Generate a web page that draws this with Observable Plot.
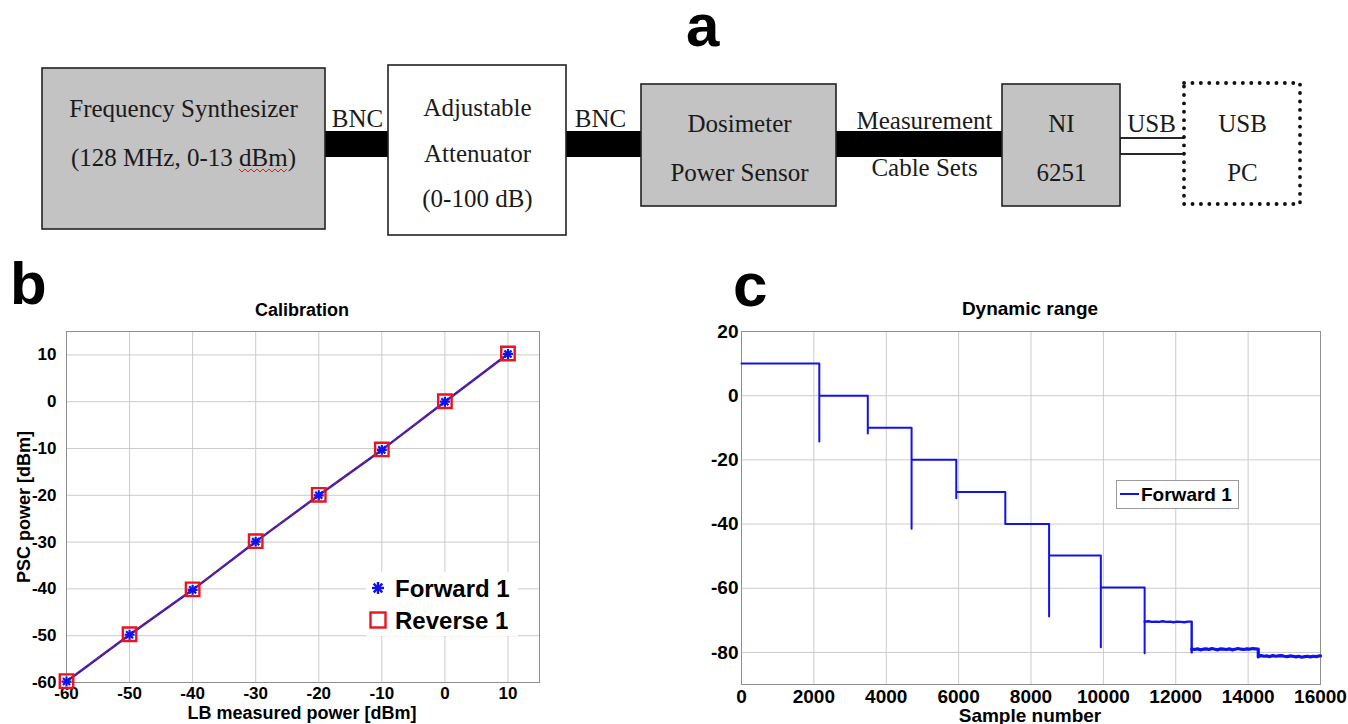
<!DOCTYPE html>
<html><head><meta charset="utf-8">
<script src="https://cdn.jsdelivr.net/npm/d3@7"></script>
<script src="https://cdn.jsdelivr.net/npm/@observablehq/plot@0.6"></script>
<style>
body{margin:0;background:#fff;}
#root{position:relative;width:1348px;height:724px;overflow:hidden;font-family:"Liberation Sans",Arial,sans-serif;}
#root > *{position:absolute;}
</style></head><body><div id="root"></div>
<script>
// ---------- Panel a: block diagram content ----------
const blockLabels = [
  ["Frequency Synthesizer", "(128 MHz, 0-13 dBm)"],
  ["Adjustable", "Attenuator", "(0-100 dB)"],
  ["Dosimeter", "Power Sensor"],
  ["NI", "6251"],
  ["USB", "PC"]
];
const cableLabels = [["BNC"], ["BNC"], ["Measurement", "Cable Sets"], ["USB"]];

// ---------- Panel b: calibration ----------
const lbPower = [-60, -50, -40, -30, -20, -10, 0, 10];
const forward1 = [-59.8, -49.8, -40.2, -29.9, -20.0, -10.3, 0.0, 10.2];
const reverse1 = [-59.7, -49.7, -40.1, -29.8, -19.9, -10.2, 0.1, 10.3];
const calTicks = [-60, -50, -40, -30, -20, -10, 0, 10];

// ---------- Panel c: dynamic range ----------
const stepStart = [0, 2150, 3490, 4700, 5935, 7290, 8500, 9930, 11140, 12440, 14280];
const stepLevel = [10, 0, -10, -20, -30, -40, -49.8, -59.8, -70.4, -79.0, -81.1];
const dropSpike = [-14.3, -11.8, -41.5, -32.0, -40.0, -68.8, -78.4, -80.3, -80.0, -81.4];
const sampleEnd = 16000;
// plateau jitter read from the noisy low-level segments
const wiggle8X = [11240, 11340, 11440, 11540, 11640, 11740, 11840, 11940, 12040, 12140, 12240, 12340];
const wiggle8Y = [-70.3, -70.5, -70.4, -70.5, -70.3, -70.5, -70.4, -70.6, -70.4, -70.5, -70.6, -70.4];
const wiggle9X = [12520, 12600, 12680, 12760, 12840, 12920, 13000, 13080, 13160, 13240, 13320, 13400, 13480, 13560, 13640, 13720, 13800, 13880, 13960, 14040, 14120, 14200];
const wiggle9Y = [-79.1, -78.9, -79.2, -79.0, -78.9, -79.1, -78.8, -79.0, -79.2, -78.9, -79.0, -79.1, -78.9, -79.2, -79.0, -78.8, -79.0, -79.1, -78.9, -79.0, -78.8, -78.9];
const wiggle10X = [14360, 14440, 14520, 14600, 14680, 14760, 14840, 14920, 15000, 15080, 15160, 15240, 15320, 15400, 15480, 15560, 15640, 15720, 15800, 15880, 15960];
const wiggle10Y = [-81.0, -81.2, -81.1, -81.3, -81.0, -81.2, -81.1, -81.0, -81.2, -81.3, -81.1, -81.2, -81.4, -81.2, -81.5, -81.3, -81.2, -81.4, -81.2, -81.3, -81.1];
const sampleTicks = [0, 2000, 4000, 6000, 8000, 10000, 12000, 14000, 16000];
const levelTicks = [-80, -60, -40, -20, 0, 20];

// ---------- build ----------
const root = document.getElementById("root");
const sans = "Liberation Sans, Arial, sans-serif";
const serif = "Liberation Serif, Times New Roman, serif";

// diagram layout (pixel frame of panel a)
const blockBox = [
  {x1: 42, x2: 325, y1: 68, y2: 229, fill: "#c3c3c3", cx: 183, rows: [108, 157]},
  {x1: 388, x2: 566, y1: 65, y2: 235, fill: "#ffffff", cx: 477, rows: [107, 153, 198]},
  {x1: 641, x2: 836, y1: 84, y2: 206, fill: "#c3c3c3", cx: 739, rows: [123, 172]},
  {x1: 1002, x2: 1120, y1: 84, y2: 206, fill: "#c3c3c3", cx: 1061, rows: [123, 172]},
  {x1: 1184, x2: 1300, y1: 83, y2: 204, fill: "#ffffff", cx: 1242, rows: [123, 172], dotted: true}
];
const cableBox = [
  {x1: 325, x2: 388, y1: 131, y2: 157, cx: 357, rows: [118]},
  {x1: 566, x2: 641, y1: 131, y2: 157, cx: 600, rows: [118]},
  {x1: 836, x2: 1002, y1: 131, y2: 157, cx: 924, rows: [120, 167]},
  {x1: 1120, x2: 1186, y1: 138, y2: 154, cx: 1151, rows: [123], hollow: true}
];
const diagramText = [];
blockLabels.forEach((lines, i) => lines.forEach((t, j) => diagramText.push({x: blockBox[i].cx, y: blockBox[i].rows[j], t})));
cableLabels.forEach((lines, i) => lines.forEach((t, j) => diagramText.push({x: cableBox[i].cx, y: cableBox[i].rows[j], t})));

const diagram = Plot.plot({
  width: 1348, height: 250, margin: 0,
  x: {domain: [0, 1348], range: [0, 1348], axis: null},
  y: {domain: [0, 250], range: [0, 250], axis: null},
  style: {background: "transparent", overflow: "visible"},
  marks: [
    Plot.rect(cableBox.filter(d => !d.hollow), {x1: "x1", x2: "x2", y1: "y1", y2: "y2", fill: "#000"}),
    Plot.rect(cableBox.filter(d => d.hollow), {x1: "x1", x2: "x2", y1: "y1", y2: "y2", fill: "#fff", stroke: "#111", strokeWidth: 1.8}),
    Plot.rect(blockBox.filter(d => !d.dotted), {x1: "x1", x2: "x2", y1: "y1", y2: "y2", fill: d => d.fill, stroke: "#222", strokeWidth: 1.6}),
    Plot.rect(blockBox.filter(d => d.dotted), {x1: "x1", x2: "x2", y1: "y1", y2: "y2", fill: "#fff", stroke: "#111", strokeWidth: 3.8, strokeDasharray: "0.1 8.3", strokeLinecap: "round"}),
    Plot.text(diagramText, {x: "x", y: "y", text: "t", fontFamily: serif, fontSize: 25, fill: "#1a1a1a", lineAnchor: "middle"})
  ]
});
diagram.style.left = "0px"; diagram.style.top = "0px";
root.appendChild(diagram);

const fmt = d => String(d);
const calData = lbPower.map((x, i) => ({x, f: forward1[i], r: reverse1[i]}));
const calib = Plot.plot({
  width: 560, height: 434, marginLeft: 66, marginRight: 21, marginTop: 41, marginBottom: 42,
  style: {fontFamily: sans, background: "transparent", color: "#000", overflow: "visible"},
  x: {domain: [-60, 15]}, y: {domain: [-60, 15]},
  marks: [
    Plot.gridX(calTicks, {stroke: "#cbcbcb", strokeOpacity: 1}),
    Plot.gridY(calTicks, {stroke: "#cbcbcb", strokeOpacity: 1}),
    Plot.frame({stroke: "#8e8e8e"}),
    Plot.axisX(calTicks, {tickSize: 0, tickPadding: 4, fontSize: 17, fontWeight: "bold", label: null, tickFormat: fmt}),
    Plot.axisY(calTicks, {tickSize: 0, tickPadding: 10, fontSize: 17, fontWeight: "bold", label: null, tickFormat: fmt}),
    Plot.line(calData, {x: "x", y: "f", stroke: "#2a1ec8", strokeWidth: 2.4}),
    Plot.line(calData, {x: "x", y: "r", stroke: "#c81a3a", strokeWidth: 1.2, strokeDasharray: "5 4", strokeOpacity: 0.7}),
    Plot.dot(calData, {x: "x", y: "r", symbol: "square", r: 7.6, stroke: "#e8141e", strokeWidth: 2.4, fill: "none"}),
    Plot.dot(calData, {x: "x", y: "f", symbol: "plus", r: 3.3, stroke: "#1010f0", strokeWidth: 2.2}),
    Plot.dot(calData, {x: "x", y: "f", symbol: "times", r: 3.3, stroke: "#1010f0", strokeWidth: 2.2})
  ]
});
calib.style.left = "0px"; calib.style.top = "290px";
root.appendChild(calib);

// step trace
const wiggles = {8: [wiggle8X, wiggle8Y], 9: [wiggle9X, wiggle9Y], 10: [wiggle10X, wiggle10Y]};
const trace = [];
stepStart.forEach((s, i) => {
  const e = i + 1 < stepStart.length ? stepStart[i + 1] : sampleEnd;
  trace.push({x: s, y: stepLevel[i], seg: i});
  if (wiggles[i]) wiggles[i][0].forEach((wx, k) => trace.push({x: wx, y: wiggles[i][1][k], seg: i}));
  trace.push({x: e, y: stepLevel[i], seg: i});
  if (i + 1 < stepStart.length) trace.push({x: e, y: dropSpike[i], seg: i});
});
const dyn = Plot.plot({
  width: 658, height: 434, marginLeft: 51, marginRight: 28, marginTop: 41, marginBottom: 40,
  style: {fontFamily: sans, background: "transparent", color: "#000", overflow: "visible"},
  x: {domain: [0, 16000]}, y: {domain: [-90, 20]},
  marks: [
    Plot.gridX(sampleTicks, {stroke: "#cbcbcb", strokeOpacity: 1}),
    Plot.gridY(levelTicks, {stroke: "#cbcbcb", strokeOpacity: 1}),
    Plot.frame({stroke: "#8e8e8e"}),
    Plot.axisX(sampleTicks, {tickSize: 0, tickPadding: 5, fontSize: 19, fontWeight: "bold", label: null, tickFormat: fmt}),
    Plot.axisY(levelTicks, {tickSize: 0, tickPadding: 3, fontSize: 19, fontWeight: "bold", label: null, tickFormat: fmt}),
    Plot.line(trace.filter(d => d.seg < 8), {x: "x", y: "y", stroke: "#1212ee", strokeWidth: 2}),
    Plot.line(trace.filter(d => d.seg === 8), {x: "x", y: "y", stroke: "#1212ee", strokeWidth: 2.4}),
    Plot.line(trace.filter(d => d.seg > 8), {x: "x", y: "y", stroke: "#1212ee", strokeWidth: 3.2})
  ]
});
dyn.style.left = "690px"; dyn.style.top = "290px";
root.appendChild(dyn);

// overlay: panel letters, titles, axis labels, legends
const ns = "http://www.w3.org/2000/svg";
const ov = document.createElementNS(ns, "svg");
ov.setAttribute("width", 1348); ov.setAttribute("height", 724);
ov.style.left = "0px"; ov.style.top = "0px";
function txt(x, y, s, size, opts = {}) {
  const t = document.createElementNS(ns, "text");
  t.setAttribute("x", x); t.setAttribute("y", y);
  t.setAttribute("font-family", opts.family || sans);
  t.setAttribute("font-size", size);
  t.setAttribute("font-weight", opts.weight || "bold");
  t.setAttribute("text-anchor", opts.anchor || "middle");
  t.setAttribute("fill", opts.fill || "#000");
  if (opts.transform) t.setAttribute("transform", opts.transform);
  t.textContent = s;
  ov.appendChild(t);
}
function el(tag, attrs) {
  const e = document.createElementNS(ns, tag);
  for (const k in attrs) e.setAttribute(k, attrs[k]);
  ov.appendChild(e);
  return e;
}
txt(686, 46, "a", 60, {anchor: "start"});
txt(10, 304, "b", 60, {anchor: "start"});
txt(733, 306, "c", 62, {anchor: "start"});
txt(302, 316, "Calibration", 18);
txt(1030, 315, "Dynamic range", 19);
txt(302, 719, "LB measured power [dBm]", 18);
txt(1030, 722, "Sample number", 19);
txt(0, 0, "PSC power [dBm]", 18, {transform: "translate(30,507) rotate(-90)"});
// red spell-check squiggle under "dBm"
let zz = "M239,169";
for (let k = 1; k <= 16; k++) zz += ` L${239 + k * 3},${k % 2 ? 172 : 169}`;
el("path", {d: zz, fill: "none", stroke: "#e02020", "stroke-width": 1});
// legend b
el("rect", {x: 366, y: 572, width: 152, height: 64, fill: "#fff"});
const ast = [[0, -6, 0, 6], [-6, 0, 6, 0], [-4.3, -4.3, 4.3, 4.3], [-4.3, 4.3, 4.3, -4.3]];
ast.forEach(a => el("line", {x1: 378 + a[0], y1: 588 + a[1], x2: 378 + a[2], y2: 588 + a[3], stroke: "#1010f0", "stroke-width": 2.4}));
el("rect", {x: 370.5, y: 612.5, width: 15, height: 15, fill: "none", stroke: "#e8141e", "stroke-width": 2.4});
txt(395, 597, "Forward 1", 24, {anchor: "start"});
txt(395, 629, "Reverse 1", 24, {anchor: "start"});
// legend c
el("rect", {x: 1116.5, y: 480.5, width: 122, height: 28, fill: "#fff", stroke: "#9a9a9a", "stroke-width": 1});
el("line", {x1: 1120, y1: 494, x2: 1139, y2: 494, stroke: "#1212ee", "stroke-width": 2});
txt(1141, 501, "Forward 1", 19, {anchor: "start"});
root.appendChild(ov);
</script>
</body></html>
